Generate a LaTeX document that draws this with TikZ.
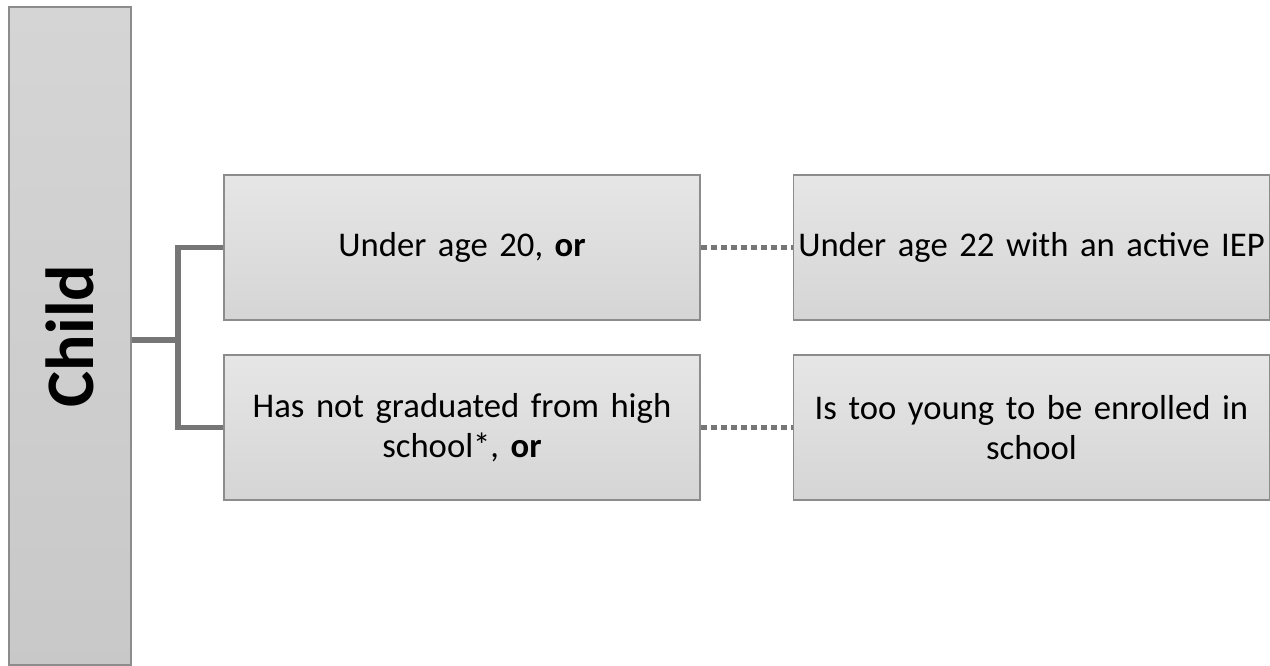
\documentclass[tikz,border=0pt]{standalone}
\usepackage{fontspec}
\setmainfont{Carlito}
\usetikzlibrary{positioning,calc}
\definecolor{Edge}{HTML}{8C8C8C}
\definecolor{Wire}{HTML}{767676}
\definecolor{BoxTop}{HTML}{E6E6E6}
\definecolor{BoxLow}{HTML}{D5D5D5}
\tikzset{
  critbox/.style={draw=Edge,line width=0.8pt,top color=BoxTop,bottom color=BoxLow,
    minimum width=357pt,minimum height=108.75pt,inner sep=2pt,align=center,
    text width=352pt,font=\fontsize{26}{30}\selectfont},
  branch/.style={Wire,line width=4.2pt},
  orlink/.style={Wire,line width=4.2pt,dash pattern=on 4.5pt off 3pt}
}
\begin{document}
\begin{tikzpicture}[x=0.75pt,y=-0.75pt]
\useasboundingbox[fill=white] (0,0) rectangle (1270,666);
% left bar
\node[draw=Edge,line width=1pt,top color=BoxLow,bottom color=BoxLow!94!black,
  minimum width=91.5pt,minimum height=493.5pt,inner sep=0pt] (child) at (70,336) {};
\node[rotate=90,font=\fontsize{51}{60}\selectfont\bfseries] (childlbl) at (child.center) {Child};
% criteria
\node[critbox] (age) at (462,247.5) {Under age 20, \textbf{or}};
\node[critbox] (grad) at (462,427.5) {Has not graduated from high\\school*, \textbf{or}};
\node[critbox] (iep) at (1031.5,247.5) {Under age 22 with an active IEP};
\node[critbox] (young) at (1031.5,427.5) {Is too young to be enrolled in\\school};
% tree
\coordinate (fork) at (178,340);
\draw[branch] (child.east |- fork) -- (fork);
\draw[branch] (age.west) -| (fork) |- (grad.west);
% dotted links
\draw[orlink] (age.east) -- (iep.west);
\draw[orlink] (grad.east) -- (young.west);
\end{tikzpicture}
\end{document}
